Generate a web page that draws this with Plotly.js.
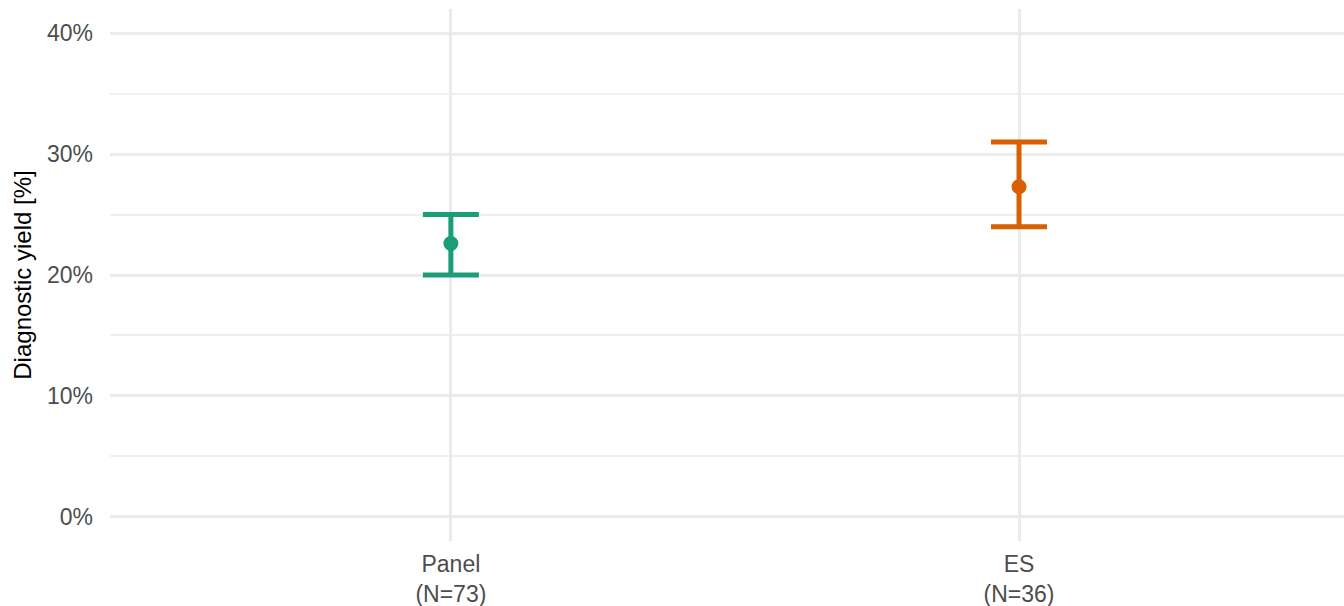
<!DOCTYPE html>
<html>
<head>
<meta charset="utf-8">
<script src="https://cdn.plot.ly/plotly-3.0.1.min.js"></script>
<style>
  html, body { margin: 0; padding: 0; background: #ffffff; }
  #chart { width: 1344px; height: 606px; }
</style>
</head>
<body>
<div id="chart"></div>
<script>
// Diagnostic yield per sequencing approach, with confidence interval
const categories = ['Panel', 'ES'];
const sampleSizes = [73, 36];
const yieldPct = [22.6, 27.3];
const ciLow = [20.0, 24.0];
const ciHigh = [25.0, 31.0];
const colors = ['#1B9E77', '#D95F02'];
const yTickVals = [0, 10, 20, 30, 40];
const yTickText = ['0%', '10%', '20%', '30%', '40%'];

const tickLabels = categories.map((c, i) => c + '<br>(N=' + sampleSizes[i] + ')');

const traces = categories.map((c, i) => ({
  type: 'scatter',
  mode: 'markers',
  x: [i],
  y: [yieldPct[i]],
  marker: { color: colors[i], size: 15 },
  error_y: {
    type: 'data',
    symmetric: false,
    array: [ciHigh[i] - yieldPct[i]],
    arrayminus: [yieldPct[i] - ciLow[i]],
    color: colors[i],
    thickness: 5,
    width: 28
  },
  hoverinfo: 'skip',
  showlegend: false
}));

const layout = {
  width: 1344,
  height: 606,
  margin: { l: 110, r: 0, t: 9, b: 65 },
  paper_bgcolor: '#ffffff',
  plot_bgcolor: '#ffffff',
  font: { family: 'Liberation Sans, Arial, sans-serif', color: '#4D4D4D', size: 22 },
  xaxis: {
    range: [-0.6, 1.572],
    tickvals: [0, 1],
    ticktext: tickLabels,
    showgrid: true,
    gridcolor: '#EBEBEB',
    gridwidth: 3,
    zeroline: false,
    showline: false,
    ticks: '',
    ticklabelstandoff: 7,
    tickfont: { size: 23, color: '#4D4D4D' },
    fixedrange: true
  },
  yaxis: {
    range: [-2, 42],
    tickvals: yTickVals,
    ticktext: yTickText,
    showgrid: true,
    gridcolor: '#EBEBEB',
    gridwidth: 3,
    minor: { dtick: 5, tick0: 5, showgrid: true, gridcolor: '#EFEFEF', gridwidth: 2 },
    zeroline: false,
    showline: false,
    ticks: '',
    ticklabelstandoff: 16,
    tickfont: { size: 23, color: '#4D4D4D' },
    title: { text: 'Diagnostic yield [%]', font: { size: 24, color: '#000000' }, standoff: 8 },
    fixedrange: true
  }
};

Plotly.newPlot('chart', traces, layout, { displayModeBar: false, staticPlot: true });
</script>
</body>
</html>
